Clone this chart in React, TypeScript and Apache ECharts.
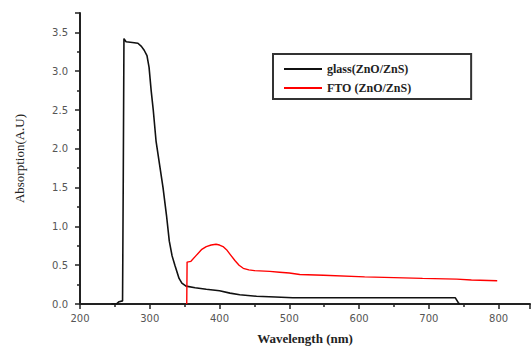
import React, { useEffect, useRef } from "react";
import * as echarts from "echarts";

const seriesNames = ["glass(ZnO/ZnS)", "FTO (ZnO/ZnS)"];

const glassWavelength = [245, 252, 256, 261, 262, 263, 266, 275, 283, 288, 292, 296, 299, 302, 305, 309, 314, 319, 324, 328, 332, 336, 342, 346, 352, 365, 381, 400, 415, 429, 453, 480, 505, 600, 700, 738, 742, 744];
const glassAbsorption = [0, 0, 0.03, 0.04, 1.6, 3.42, 3.38, 3.37, 3.36, 3.32, 3.27, 3.2, 3.05, 2.75, 2.5, 2.1, 1.8, 1.5, 1.14, 0.81, 0.62, 0.5, 0.33, 0.27, 0.23, 0.21, 0.19, 0.17, 0.14, 0.12, 0.1, 0.09, 0.08, 0.08, 0.08, 0.08, 0.02, 0];

const ftoWavelength = [353, 353.5, 359, 366, 374, 381, 388, 395, 400, 405, 410, 416, 422, 428, 434, 442, 450, 472, 486, 500, 515, 549, 608, 650, 691, 740, 761, 798];
const ftoAbsorption = [0, 0.54, 0.55, 0.62, 0.7, 0.74, 0.76, 0.77, 0.76, 0.74, 0.7, 0.63, 0.56, 0.5, 0.46, 0.44, 0.43, 0.42, 0.41, 0.4, 0.38, 0.37, 0.35, 0.34, 0.33, 0.32, 0.31, 0.3];

const xTitle = "Wavelength (nm)";
const yTitle = "Absorption(A.U)";

export default function App() {
  const ref = useRef<HTMLDivElement>(null);
  useEffect(() => {
    if (!ref.current) return;
    const chart = echarts.init(ref.current, null, { renderer: "svg" });
    const tickLabel = { fontFamily: "DejaVu Sans", fontSize: 10, color: "#555" };
    chart.setOption({
      animation: false,
      backgroundColor: "#fff",
      grid: { left: 80, top: 13, right: 1, bottom: 44, containLabel: false },
      legend: {
        orient: "vertical",
        left: 273,
        top: 54,
        padding: [9, 60, 5, 10],
        itemWidth: 38,
        itemHeight: 12,
        itemGap: 7,
        borderColor: "#333",
        borderWidth: 2,
        borderRadius: 0,
        data: seriesNames,
        itemStyle: { opacity: 0 },
        textStyle: { fontFamily: "Liberation Serif", fontWeight: "bold", fontSize: 12, color: "#222", lineHeight: 12 },
      },
      xAxis: {
        type: "value",
        min: 200,
        max: 845,
        interval: 100,
        name: xTitle,
        nameLocation: "middle",
        nameGap: 28,
        nameTextStyle: { fontFamily: "Liberation Serif", fontWeight: "bold", fontSize: 13, color: "#222" },
        axisLine: { show: true, onZero: false, lineStyle: { color: "#222", width: 2 } },
        axisTick: { show: true, inside: false, length: 5, lineStyle: { color: "#222", width: 1.5 } },
        minorTick: { show: true, splitNumber: 2, length: 3, lineStyle: { color: "#222", width: 1.5 } },
        axisLabel: { ...tickLabel, margin: 9, showMaxLabel: false },
        splitLine: { show: false },
      },
      yAxis: {
        type: "value",
        min: 0,
        max: 3.75,
        interval: 0.5,
        name: yTitle,
        nameLocation: "middle",
        nameRotate: 90,
        nameGap: 54,
        nameTextStyle: { fontFamily: "Liberation Serif", fontSize: 13, color: "#222" },
        axisLine: { show: true, onZero: false, lineStyle: { color: "#222", width: 2 } },
        axisTick: { show: true, inside: false, length: 5, lineStyle: { color: "#222", width: 1.5 } },
        minorTick: { show: true, splitNumber: 2, length: 3, lineStyle: { color: "#222", width: 1.5 } },
        axisLabel: {
          ...tickLabel,
          margin: 12,
          showMaxLabel: false,
          formatter: (v: number) => (Math.abs(v / 0.5 - Math.round(v / 0.5)) < 1e-6 ? v.toFixed(1) : ""),
        },
        splitLine: { show: false },
      },
      series: [
        {
          name: seriesNames[0],
          type: "line",
          symbol: "none",
          data: glassWavelength.map((x, i) => [x, glassAbsorption[i]]),
          lineStyle: { color: "#111", width: 1.6 },
          itemStyle: { color: "#111" },
        },
        {
          name: seriesNames[1],
          type: "line",
          symbol: "none",
          data: ftoWavelength.map((x, i) => [x, ftoAbsorption[i]]),
          lineStyle: { color: "#ff0000", width: 1.4 },
          itemStyle: { color: "#ff0000" },
        },
      ],
    });
    return () => chart.dispose();
  }, []);
  return <div ref={ref} style={{ width: 531, height: 350, position: "absolute", left: 0, top: 0 }} />;
}
